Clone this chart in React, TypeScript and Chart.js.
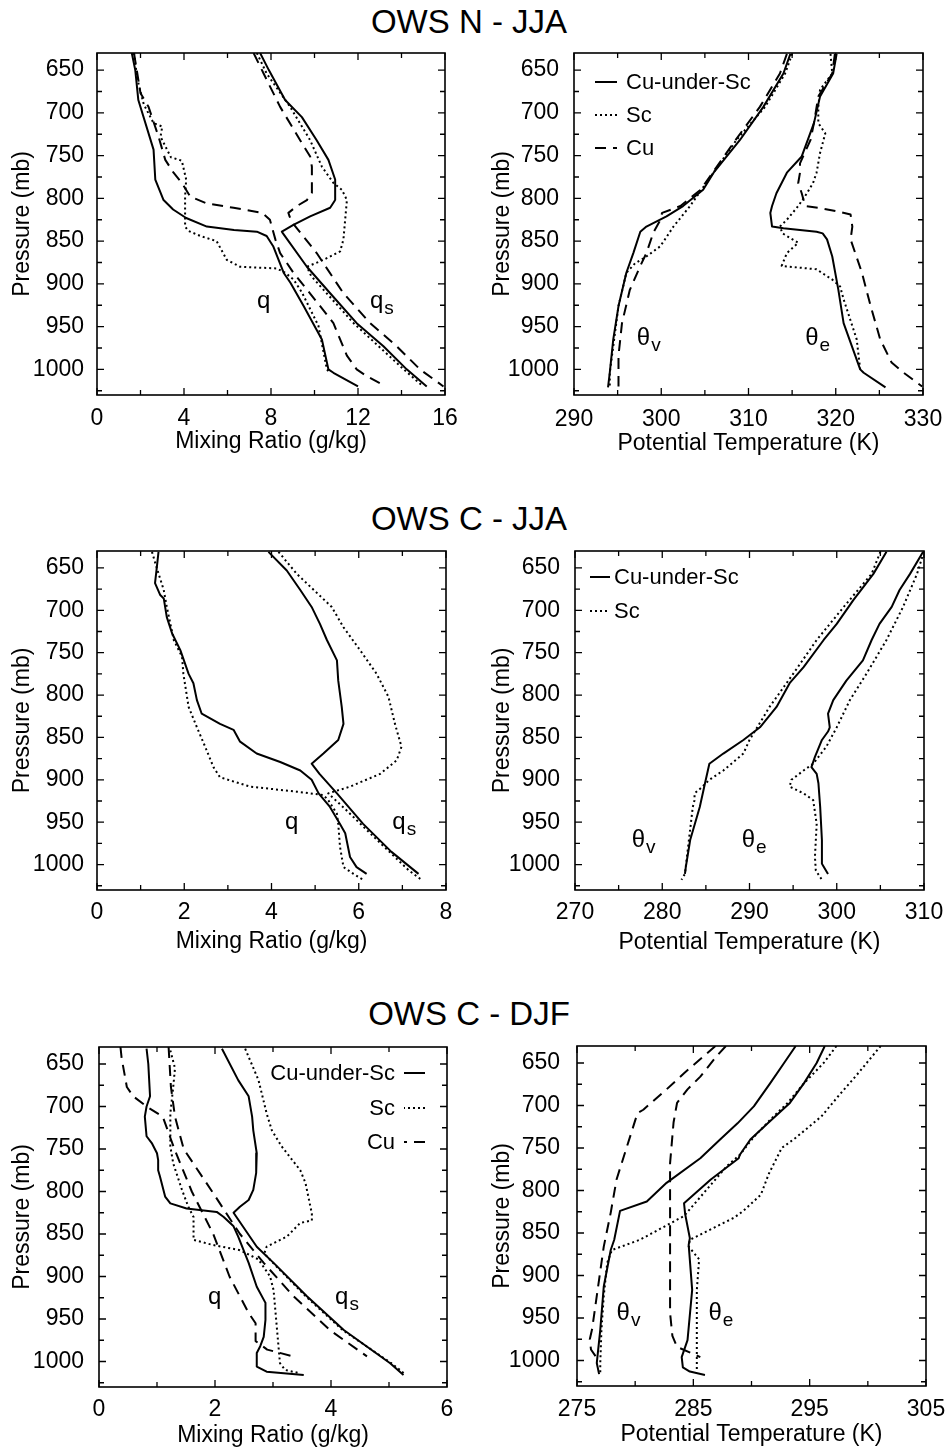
import React, { useEffect, useRef } from 'react';
import { Chart, registerables } from 'chart.js';
Chart.register(...registerables);

const FONT = '"Liberation Sans", Arial, Helvetica, sans-serif';

// ---------- shared axis ticks ----------
const pressureTicks = [650, 675, 700, 725, 750, 775, 800, 825, 850, 875, 900, 925, 950, 975, 1000, 1025];
const pressureLabels = [650, 700, 750, 800, 850, 900, 950, 1000];

const nMixTicks = [0, 2, 4, 6, 8, 10, 12, 14, 16];
const nMixLabels = [0, 4, 8, 12, 16];
const nThTicks = [290, 295, 300, 305, 310, 315, 320, 325, 330];
const nThLabels = [290, 300, 310, 320, 330];
const cjMixTicks = [0, 1, 2, 3, 4, 5, 6, 7, 8];
const cjMixLabels = [0, 2, 4, 6, 8];
const cjThTicks = [270, 275, 280, 285, 290, 295, 300, 305, 310];
const cjThLabels = [270, 280, 290, 300, 310];
const cdMixTicks = [0, 1, 2, 3, 4, 5, 6];
const cdMixLabels = [0, 2, 4, 6];
const cdThTicks = [275, 280, 285, 290, 295, 300, 305];
const cdThLabels = [275, 285, 295, 305];

// ---------- OWS N - JJA : mixing ratio ----------
const nQCusP = [630, 650, 685, 743, 778, 802, 813, 823, 833, 837, 839, 844, 856, 887, 899, 926, 965, 1000, 1004, 1020];
const nQCusV = [1.6, 1.76, 1.9, 2.6, 2.68, 3.06, 3.5, 4.1, 5.05, 6.3, 7.35, 7.8, 8.1, 8.58, 8.9, 9.5, 10.34, 10.64, 10.87, 12.0];
const nQScP = [630, 660, 690, 712, 716, 728, 752, 756, 778, 798, 833, 838, 844, 850, 872, 880, 882, 887, 895, 910, 949, 1000, 1004];
const nQScV = [1.7, 1.85, 2.15, 2.6, 3.0, 2.92, 3.4, 3.9, 4.1, 4.05, 4.05, 4.2, 4.75, 5.5, 5.97, 6.58, 8.27, 8.65, 9.04, 9.42, 10.18, 10.57, 10.72];
const nQCuP = [630, 677, 693, 728, 755, 770, 782, 798, 806, 811, 817, 825, 848, 864, 887, 926, 946, 984, 1000, 1008, 1016];
const nQCuV = [1.7, 2.0, 2.37, 2.83, 3.14, 3.52, 3.9, 4.29, 5.05, 6.28, 7.6, 7.95, 8.2, 8.42, 9.03, 10.26, 10.87, 11.49, 11.94, 12.4, 13.0];
const nQsCusP = [630, 650, 685, 705, 732, 755, 778, 802, 811, 821, 831, 839, 841, 880, 911, 946, 973, 1000, 1020];
const nQsCusV = [7.5, 7.9, 8.65, 9.42, 10.1, 10.64, 10.95, 10.95, 10.72, 9.8, 9.03, 8.5, 8.55, 9.65, 10.72, 11.94, 13.17, 14.24, 15.16];
const nQsScP = [630, 654, 693, 732, 763, 782, 790, 802, 848, 862, 872, 880, 891, 946, 1000, 1020];
const nQsScV = [7.35, 7.8, 8.88, 9.8, 10.34, 10.87, 11.26, 11.49, 11.33, 11.18, 10.41, 9.65, 9.85, 11.8, 14.1, 15.0];
const nQsCuP = [630, 654, 693, 732, 751, 763, 794, 802, 809, 817, 821, 829, 864, 911, 946, 973, 1000, 1020];
const nQsCuV = [7.2, 7.66, 8.42, 9.34, 9.8, 9.88, 9.88, 9.65, 9.19, 8.8, 8.85, 9.0, 10.1, 11.33, 12.56, 13.78, 14.85, 15.93];

// ---------- OWS N - JJA : potential temperature ----------
const nTvCusP = [631, 654, 693, 732, 770, 790, 809, 821, 833, 839, 864, 887, 926, 965, 1004, 1021];
const nTvCusV = [314.8, 314.0, 311.7, 309.0, 306.0, 304.8, 302.5, 300.6, 298.3, 297.6, 296.8, 296.0, 295.1, 294.5, 294.1, 293.9];
const nTvScP = [631, 654, 693, 732, 790, 809, 833, 856, 868, 876, 887, 926, 1004, 1020];
const nTvScV = [315.0, 314.2, 311.9, 308.6, 304.6, 303.3, 301.4, 299.9, 298.3, 297.0, 296.0, 295.1, 294.1, 294.1];
const nTvCuP = [631, 654, 693, 732, 790, 809, 817, 827, 840, 864, 879, 907, 946, 984, 1020];
const nTvCuV = [314.4, 313.6, 311.3, 308.5, 304.5, 302.2, 300.1, 299.8, 299.1, 298.3, 297.6, 296.4, 295.5, 295.1, 295.1];
const nTeCusP = [631, 654, 681, 712, 751, 770, 794, 809, 817, 833, 835, 839, 841, 848, 868, 907, 946, 1000, 1004, 1021];
const nTeCusV = [320.1, 319.7, 318.2, 317.5, 316.1, 314.4, 313.2, 312.7, 312.5, 312.7, 314.0, 317.8, 318.5, 319.0, 319.6, 320.3, 320.9, 322.8, 323.2, 325.7];
const nTeScP = [631, 654, 673, 693, 712, 724, 747, 770, 782, 794, 809, 825, 833, 841, 852, 864, 879, 883, 895, 903, 918, 965, 1000];
const nTeScV = [319.4, 319.6, 318.2, 318.0, 318.0, 318.8, 318.2, 317.8, 317.4, 316.7, 315.7, 314.4, 313.6, 313.9, 315.7, 314.4, 313.8, 317.8, 319.6, 320.5, 320.9, 322.4, 322.8];
const nTeCuP = [631, 654, 681, 712, 732, 759, 770, 782, 794, 809, 811, 815, 819, 833, 848, 887, 926, 965, 992, 1004, 1020];
const nTeCuV = [319.9, 319.6, 318.0, 317.5, 317.1, 315.9, 315.9, 315.7, 316.1, 316.5, 318.0, 320.1, 321.7, 321.9, 321.7, 323.0, 324.0, 325.1, 326.4, 327.8, 329.9];

// ---------- OWS C - JJA : mixing ratio ----------
const cQCusP = [631, 650, 668, 682, 686, 708, 727, 747, 775, 786, 806, 822, 834, 841, 855, 869, 879, 889, 900, 916, 932, 952, 963, 991, 1003, 1011];
const cQCusV = [1.41, 1.37, 1.33, 1.45, 1.53, 1.6, 1.72, 1.91, 2.1, 2.21, 2.29, 2.4, 2.82, 3.13, 3.28, 3.66, 4.2, 4.66, 4.92, 5.08, 5.34, 5.57, 5.69, 5.8, 5.95, 6.18];
const cQScP = [631, 650, 676, 696, 735, 755, 775, 814, 838, 861, 885, 897, 908, 914, 918, 924, 940, 952, 979, 1003, 1011, 1018];
const cQScV = [1.26, 1.37, 1.53, 1.6, 1.76, 1.95, 1.98, 2.1, 2.29, 2.48, 2.67, 2.82, 3.51, 4.58, 5.19, 5.3, 5.5, 5.53, 5.57, 5.65, 5.88, 6.1];
const cQsCusP = [631, 653, 676, 696, 716, 735, 759, 783, 814, 834, 853, 869, 881, 893, 916, 952, 985, 1011];
const cQsCusV = [3.93, 4.35, 4.66, 4.92, 5.11, 5.27, 5.5, 5.53, 5.61, 5.65, 5.53, 5.19, 4.92, 5.1, 5.5, 6.1, 6.75, 7.37];
const cQsScP = [631, 657, 696, 720, 747, 775, 802, 834, 861, 877, 893, 908, 916, 935, 963, 1007, 1018];
const cQsScV = [4.16, 4.58, 5.38, 5.65, 6.03, 6.41, 6.68, 6.83, 6.98, 6.87, 6.49, 5.8, 5.3, 5.7, 6.26, 7.15, 7.44];

// ---------- OWS C - JJA : potential temperature ----------
const cTvCusP = [631, 657, 688, 716, 735, 767, 786, 814, 838, 853, 869, 881, 904, 932, 971, 1003, 1011];
const cTvCusV = [305.7, 304.2, 301.9, 300.0, 298.5, 296.2, 294.6, 293.1, 291.2, 289.3, 287.0, 285.4, 284.9, 284.3, 283.2, 282.7, 282.6];
const cTvScP = [631, 657, 696, 735, 775, 814, 853, 869, 889, 900, 911, 916, 924, 932, 1011, 1018];
const cTvScV = [305.0, 304.0, 300.8, 297.7, 295.0, 292.3, 290.0, 289.3, 287.0, 285.4, 284.3, 283.7, 283.7, 283.5, 282.6, 282.2];
const cTeCusP = [631, 657, 676, 696, 716, 735, 759, 783, 806, 822, 838, 843, 853, 873, 885, 893, 904, 932, 971, 999, 1011];
const cTeCusV = [309.9, 308.4, 307.2, 306.3, 304.9, 304.0, 303.0, 301.1, 299.6, 299.0, 299.2, 299.0, 298.3, 297.5, 297.1, 297.7, 297.9, 298.1, 298.3, 298.3, 299.0];
const cTeScP = [637, 657, 696, 735, 775, 806, 838, 861, 881, 889, 900, 908, 916, 924, 952, 991, 1007, 1018];
const cTeScV = [309.8, 309.2, 307.6, 305.7, 303.4, 301.5, 300.0, 298.8, 297.3, 296.2, 294.8, 294.6, 296.2, 297.3, 297.7, 297.5, 297.6, 298.3];

// ---------- OWS C - DJF : mixing ratio ----------
const dQCusP = [632, 650, 688, 700, 712, 735, 743, 755, 763, 775, 782, 806, 814, 820, 824, 830, 841, 853, 884, 912, 931, 951, 971, 982, 990, 1006, 1012, 1016];
const dQCusV = [0.82, 0.85, 0.88, 0.82, 0.79, 0.82, 0.91, 1.0, 1.02, 1.02, 1.05, 1.14, 1.23, 1.51, 2.03, 2.15, 2.32, 2.4, 2.58, 2.72, 2.87, 2.87, 2.84, 2.78, 2.72, 2.72, 2.89, 3.53];
const dQScP = [634, 655, 677, 708, 747, 767, 798, 818, 830, 857, 863, 869, 880, 900, 916, 963, 1002, 1010, 1014];
const dQScV = [1.23, 1.31, 1.28, 1.23, 1.23, 1.28, 1.43, 1.54, 1.63, 1.63, 1.97, 2.43, 2.75, 2.95, 3.01, 3.07, 3.12, 3.21, 3.47];
const dQCuP = [630, 643, 677, 688, 700, 712, 750, 800, 850, 900, 943, 955, 976, 986, 994];
const dQCuV = [0.37, 0.39, 0.48, 0.59, 0.82, 1.1, 1.3, 1.6, 1.97, 2.25, 2.58, 2.7, 2.7, 2.9, 3.35];
const dQsCusP = [632, 669, 688, 712, 728, 755, 778, 798, 810, 818, 825, 830, 865, 884, 923, 963, 1002, 1016];
const dQsCusV = [2.12, 2.4, 2.58, 2.64, 2.66, 2.72, 2.71, 2.66, 2.58, 2.43, 2.32, 2.37, 2.72, 3.01, 3.58, 4.22, 5.02, 5.25];
const dQsScP = [632, 669, 708, 728, 747, 775, 790, 826, 834, 837, 853, 865, 873, 884, 923, 963, 1002, 1015];
const dQsScV = [2.52, 2.75, 2.89, 2.98, 3.15, 3.47, 3.56, 3.67, 3.67, 3.47, 3.24, 2.89, 2.85, 3.0, 3.56, 4.2, 5.04, 5.28];
const dQsCuP = [630, 677, 712, 750, 800, 850, 884, 923, 963, 994];
const dQsCuV = [1.2, 1.24, 1.31, 1.46, 1.95, 2.43, 2.84, 3.35, 3.98, 4.62];

// ---------- OWS C - DJF : potential temperature ----------
const dTvCusP = [630, 650, 674, 701, 721, 740, 762, 791, 813, 824, 858, 870, 913, 964, 1003, 1016];
const dTvCusV = [293.8, 292.8, 291.6, 290.2, 288.8, 287.3, 285.6, 282.7, 281.0, 278.7, 278.2, 277.9, 277.3, 277.0, 276.7, 276.9];
const dTvScP = [630, 650, 674, 697, 717, 737, 758, 771, 830, 858, 870, 885, 924, 964, 1003, 1016];
const dTvScV = [297.3, 296.2, 294.5, 293.1, 291.6, 290.2, 289.0, 287.9, 284.2, 280.4, 278.0, 277.6, 277.3, 277.1, 277.0, 277.0];
const dTvCuP = [630, 642, 662, 681, 705, 709, 748, 787, 826, 866, 924, 963, 975, 987, 997];
const dTvCuV = [286.9, 285.9, 284.2, 282.7, 280.7, 280.2, 279.3, 278.4, 277.9, 277.3, 276.7, 276.3, 276.1, 276.2, 276.7];
const dTeCusP = [630, 650, 674, 697, 721, 740, 758, 762, 787, 815, 828, 856, 864, 917, 976, 996, 1008, 1013, 1017];
const dTeCusV = [296.3, 295.6, 294.5, 293.3, 291.4, 289.9, 289.0, 288.9, 286.5, 284.2, 284.3, 284.7, 284.6, 284.9, 284.5, 284.0, 284.1, 284.7, 286.0];
const dTeScP = [630, 660, 690, 713, 738, 750, 780, 805, 824, 832, 858, 866, 881, 917, 1010];
const dTeScV = [301.1, 299.3, 297.4, 296.0, 293.8, 292.6, 291.5, 290.8, 289.3, 288.5, 284.7, 284.6, 285.5, 285.3, 285.3];
const dTeCuP = [630, 642, 666, 681, 697, 720, 768, 807, 885, 944, 971, 984, 996];
const dTeCuV = [287.8, 287.0, 285.6, 284.5, 283.6, 283.3, 283.0, 283.0, 283.0, 283.0, 283.2, 283.6, 285.6];

// ---------- styles ----------
type Kind = 'cus' | 'sc' | 'cu';
const DASH: Record<Kind, number[]> = { cus: [], sc: [2, 3], cu: [11, 7] };
const LINE_W: Record<Kind, number> = { cus: 2, sc: 2, cu: 2 };
const LEGEND_NAMES: Record<Kind, string> = { cus: 'Cu-under-Sc', sc: 'Sc', cu: 'Cu' };

type Series = { p: number[]; v: number[]; kind: Kind };
type Note = { x: number; p: number; main: string; sub: string };
type Legend = { align: 'left' | 'right'; outer: number; inner: number; text: number; rows: number[]; kinds: Kind[] };
type Panel = {
  left: number; top: number; w: number; h: number;
  padTop: number; padRight: number; yW: number; xH: number;
  xTickPad: number; xTitlePad: number; yTickPad: number; yTitlePad: number;
  xMin: number; xMax: number; xTicks: number[]; xLabels: number[]; xTitle: string;
  series: Series[]; notes: Note[]; legend: Legend | null;
};

const S = (p: number[], v: number[], kind: Kind): Series => ({ p, v, kind });

const PANELS: Panel[] = [
  {
    left: 0, top: 40, w: 470, h: 430, padTop: 13, padRight: 25, yW: 97, xH: 75,
    xTickPad: 10, xTitlePad: 15, yTickPad: 13, yTitlePad: 9,
    xMin: 0, xMax: 16, xTicks: nMixTicks, xLabels: nMixLabels, xTitle: 'Mixing Ratio (g/kg)',
    series: [S(nQCusP, nQCusV, 'cus'), S(nQScP, nQScV, 'sc'), S(nQCuP, nQCuV, 'cu'),
      S(nQsCusP, nQsCusV, 'cus'), S(nQsScP, nQsScV, 'sc'), S(nQsCuP, nQsCuV, 'cu')],
    notes: [{ x: 7.36, p: 928, main: 'q', sub: '' }, { x: 12.55, p: 928, main: 'q', sub: 's' }],
    legend: null,
  },
  {
    left: 470, top: 40, w: 479, h: 430, padTop: 13, padRight: 26, yW: 104, xH: 75,
    xTickPad: 11, xTitlePad: 13, yTickPad: 15, yTitlePad: 19,
    xMin: 290, xMax: 330, xTicks: nThTicks, xLabels: nThLabels, xTitle: 'Potential Temperature (K)',
    series: [S(nTvCusP, nTvCusV, 'cus'), S(nTvScP, nTvScV, 'sc'), S(nTvCuP, nTvCuV, 'cu'),
      S(nTeCusP, nTeCusV, 'cus'), S(nTeScP, nTeScV, 'sc'), S(nTeCuP, nTeCuV, 'cu')],
    notes: [{ x: 297.2, p: 971, main: 'θ', sub: 'v' }, { x: 316.5, p: 971, main: 'θ', sub: 'e' }],
    legend: { align: 'left', outer: 21, inner: 43, text: 52, rows: [29, 62, 95], kinds: ['cus', 'sc', 'cu'] },
  },
  {
    left: 0, top: 540, w: 470, h: 430, padTop: 11, padRight: 24, yW: 97, xH: 80,
    xTickPad: 9, xTitlePad: 15, yTickPad: 13, yTitlePad: 9,
    xMin: 0, xMax: 8, xTicks: cjMixTicks, xLabels: cjMixLabels, xTitle: 'Mixing Ratio (g/kg)',
    series: [S(cQCusP, cQCusV, 'cus'), S(cQScP, cQScV, 'sc'), S(cQsCusP, cQsCusV, 'cus'), S(cQsScP, cQsScV, 'sc')],
    notes: [{ x: 4.31, p: 958, main: 'q', sub: '' }, { x: 6.77, p: 958, main: 'q', sub: 's' }],
    legend: null,
  },
  {
    left: 470, top: 540, w: 479, h: 430, padTop: 11, padRight: 25, yW: 105, xH: 80,
    xTickPad: 9, xTitlePad: 14, yTickPad: 15, yTitlePad: 19,
    xMin: 270, xMax: 310, xTicks: cjThTicks, xLabels: cjThLabels, xTitle: 'Potential Temperature (K)',
    series: [S(cTvCusP, cTvCusV, 'cus'), S(cTvScP, cTvScV, 'sc'), S(cTeCusP, cTeCusV, 'cus'), S(cTeScP, cTeScV, 'sc')],
    notes: [{ x: 276.5, p: 979, main: 'θ', sub: 'v' }, { x: 289.1, p: 979, main: 'θ', sub: 'e' }],
    legend: { align: 'left', outer: 15, inner: 35, text: 39, rows: [26, 60], kinds: ['cus', 'sc'] },
  },
  {
    left: 0, top: 1035, w: 470, h: 419, padTop: 12, padRight: 23, yW: 99, xH: 67,
    xTickPad: 9, xTitlePad: 5, yTickPad: 15, yTitlePad: 9,
    xMin: 0, xMax: 6, xTicks: cdMixTicks, xLabels: cdMixLabels, xTitle: 'Mixing Ratio (g/kg)',
    series: [S(dQCusP, dQCusV, 'cus'), S(dQScP, dQScV, 'sc'), S(dQCuP, dQCuV, 'cu'),
      S(dQsCusP, dQsCusV, 'cus'), S(dQsScP, dQsScV, 'sc'), S(dQsCuP, dQsCuV, 'cu')],
    notes: [{ x: 1.88, p: 932, main: 'q', sub: '' }, { x: 4.07, p: 932, main: 'q', sub: 's' }],
    legend: { align: 'right', outer: 22, inner: 43, text: 52, rows: [26, 61, 95], kinds: ['cus', 'sc', 'cu'] },
  },
  {
    left: 470, top: 1035, w: 479, h: 419, padTop: 11, padRight: 23, yW: 107, xH: 68,
    xTickPad: 10, xTitlePad: 6, yTickPad: 17, yTitlePad: 19,
    xMin: 275, xMax: 305, xTicks: cdThTicks, xLabels: cdThLabels, xTitle: 'Potential Temperature (K)',
    series: [S(dTvCusP, dTvCusV, 'cus'), S(dTvScP, dTvScV, 'sc'), S(dTvCuP, dTvCuV, 'cu'),
      S(dTeCusP, dTeCusV, 'cus'), S(dTeScP, dTeScV, 'sc'), S(dTeCuP, dTeCuV, 'cu')],
    notes: [{ x: 278.4, p: 952, main: 'θ', sub: 'v' }, { x: 286.3, p: 952, main: 'θ', sub: 'e' }],
    legend: null,
  },
];

const TITLES = [
  { text: 'OWS N - JJA', top: 5 },
  { text: 'OWS C - JJA', top: 502 },
  { text: 'OWS C - DJF', top: 997 },
];

const AX_FONT = 23;

function decorPlugin(panel: Panel) {
  return {
    id: 'decor',
    afterDraw(chart: any) {
      const { ctx, chartArea: a } = chart;
      const xs = chart.scales.x;
      const ys = chart.scales.y;
      ctx.save();
      ctx.setLineDash([]);
      ctx.strokeStyle = '#000';
      ctx.lineWidth = 1.6;
      ctx.strokeRect(a.left, a.top, a.right - a.left, a.bottom - a.top);
      ctx.lineWidth = 1.3;
      ctx.beginPath();
      panel.xTicks.forEach((v) => {
        const px = xs.getPixelForValue(v);
        const L = panel.xLabels.includes(v) ? 7 : 5;
        ctx.moveTo(px, a.bottom); ctx.lineTo(px, a.bottom - L);
        ctx.moveTo(px, a.top); ctx.lineTo(px, a.top + L);
      });
      pressureTicks.forEach((v) => {
        const py = ys.getPixelForValue(v);
        const L = pressureLabels.includes(v) ? 7 : 5;
        ctx.moveTo(a.left, py); ctx.lineTo(a.left + L, py);
        ctx.moveTo(a.right, py); ctx.lineTo(a.right - L, py);
      });
      ctx.stroke();

      // curve labels
      ctx.fillStyle = '#000';
      ctx.textBaseline = 'alphabetic';
      ctx.textAlign = 'left';
      panel.notes.forEach((n) => {
        const px = xs.getPixelForValue(n.x);
        const py = ys.getPixelForValue(n.p);
        ctx.font = `24px ${FONT}`;
        ctx.fillText(n.main, px, py);
        if (n.sub) {
          const w = ctx.measureText(n.main).width;
          ctx.font = `19px ${FONT}`;
          ctx.fillText(n.sub, px + w + 1, py + 6);
        }
      });

      // legend
      const lg = panel.legend;
      if (lg) {
        ctx.font = `22px ${FONT}`;
        ctx.textBaseline = 'middle';
        lg.kinds.forEach((k, i) => {
          const y = a.top + lg.rows[i];
          const outer = lg.align === 'left' ? a.left + lg.outer : a.right - lg.outer;
          const inner = lg.align === 'left' ? a.left + lg.inner : a.right - lg.inner;
          const tx = lg.align === 'left' ? a.left + lg.text : a.right - lg.text;
          ctx.save();
          ctx.setLineDash(DASH[k]);
          ctx.lineWidth = LINE_W[k];
          ctx.beginPath();
          ctx.moveTo(outer, y); ctx.lineTo(inner, y);
          ctx.stroke();
          ctx.restore();
          ctx.textAlign = lg.align === 'left' ? 'left' : 'right';
          ctx.fillText(LEGEND_NAMES[k], tx, y + 1);
        });
      }
      ctx.restore();
    },
  };
}

function zeroPad(sc: any) {
  sc.paddingTop = 0;
  sc.paddingBottom = 0;
  sc.paddingLeft = 0;
  sc.paddingRight = 0;
}

function buildConfig(panel: Panel): any {
  const font = { family: FONT, size: AX_FONT };
  return {
    type: 'scatter',
    data: {
      datasets: panel.series.map((s) => ({
        label: LEGEND_NAMES[s.kind],
        data: s.p.map((p, i) => ({ x: s.v[i], y: p })),
        showLine: true,
        borderColor: '#000',
        backgroundColor: '#000',
        borderWidth: LINE_W[s.kind],
        borderDash: DASH[s.kind],
        borderJoinStyle: 'round',
        pointRadius: 0,
        pointHoverRadius: 0,
        tension: 0,
        fill: false,
      })),
    },
    options: {
      animation: false,
      responsive: false,
      maintainAspectRatio: false,
      devicePixelRatio: 1,
      events: [],
      layout: { padding: { left: 0, top: panel.padTop, right: panel.padRight, bottom: 0 } },
      plugins: { legend: { display: false }, tooltip: { enabled: false }, title: { display: false } },
      scales: {
        x: {
          type: 'linear', position: 'bottom', min: panel.xMin, max: panel.xMax,
          afterBuildTicks: (sc: any) => { sc.ticks = panel.xTicks.map((v) => ({ value: v })); },
          afterFit: (sc: any) => { sc.height = panel.xH; zeroPad(sc); },
          grid: { display: false, drawTicks: false },
          border: { display: false },
          ticks: {
            color: '#000', font, padding: panel.xTickPad, maxRotation: 0, minRotation: 0, autoSkip: false,
            callback: (v: number) => (panel.xLabels.includes(v) ? String(v) : ''),
          },
          title: { display: true, text: panel.xTitle, color: '#000', font, padding: { top: 0, bottom: panel.xTitlePad } },
        },
        y: {
          type: 'linear', position: 'left', min: 630, max: 1030, reverse: true,
          afterBuildTicks: (sc: any) => { sc.ticks = pressureTicks.map((v) => ({ value: v })); },
          afterFit: (sc: any) => { sc.width = panel.yW; zeroPad(sc); },
          grid: { display: false, drawTicks: false },
          border: { display: false },
          ticks: {
            color: '#000', font, padding: panel.yTickPad, autoSkip: false,
            callback: (v: number) => (pressureLabels.includes(v) ? String(v) : ''),
          },
          title: { display: true, text: 'Pressure (mb)', color: '#000', font, padding: { top: panel.yTitlePad, bottom: 0 } },
        },
      },
    },
    plugins: [decorPlugin(panel)],
  };
}

function PanelChart({ panel }: { panel: Panel }) {
  const ref = useRef<HTMLCanvasElement | null>(null);
  useEffect(() => {
    if (!ref.current) return;
    const chart = new Chart(ref.current, buildConfig(panel));
    return () => chart.destroy();
  }, [panel]);
  return (
    <canvas
      ref={ref}
      width={panel.w}
      height={panel.h}
      style={{ position: 'absolute', left: panel.left, top: panel.top, width: panel.w, height: panel.h, display: 'block' }}
    />
  );
}

export default function App() {
  return (
    <div style={{ position: 'absolute', left: 0, top: 0, width: 949, height: 1454, background: '#fff', overflow: 'hidden' }}>
      {TITLES.map((t) => (
        <div
          key={t.text}
          style={{
            position: 'absolute', left: 0, width: 938, top: t.top, textAlign: 'center',
            fontFamily: FONT, fontSize: 33, lineHeight: 1, color: '#000', whiteSpace: 'nowrap',
          }}
        >
          {t.text}
        </div>
      ))}
      {PANELS.map((p, i) => (
        <PanelChart key={i} panel={p} />
      ))}
    </div>
  );
}
